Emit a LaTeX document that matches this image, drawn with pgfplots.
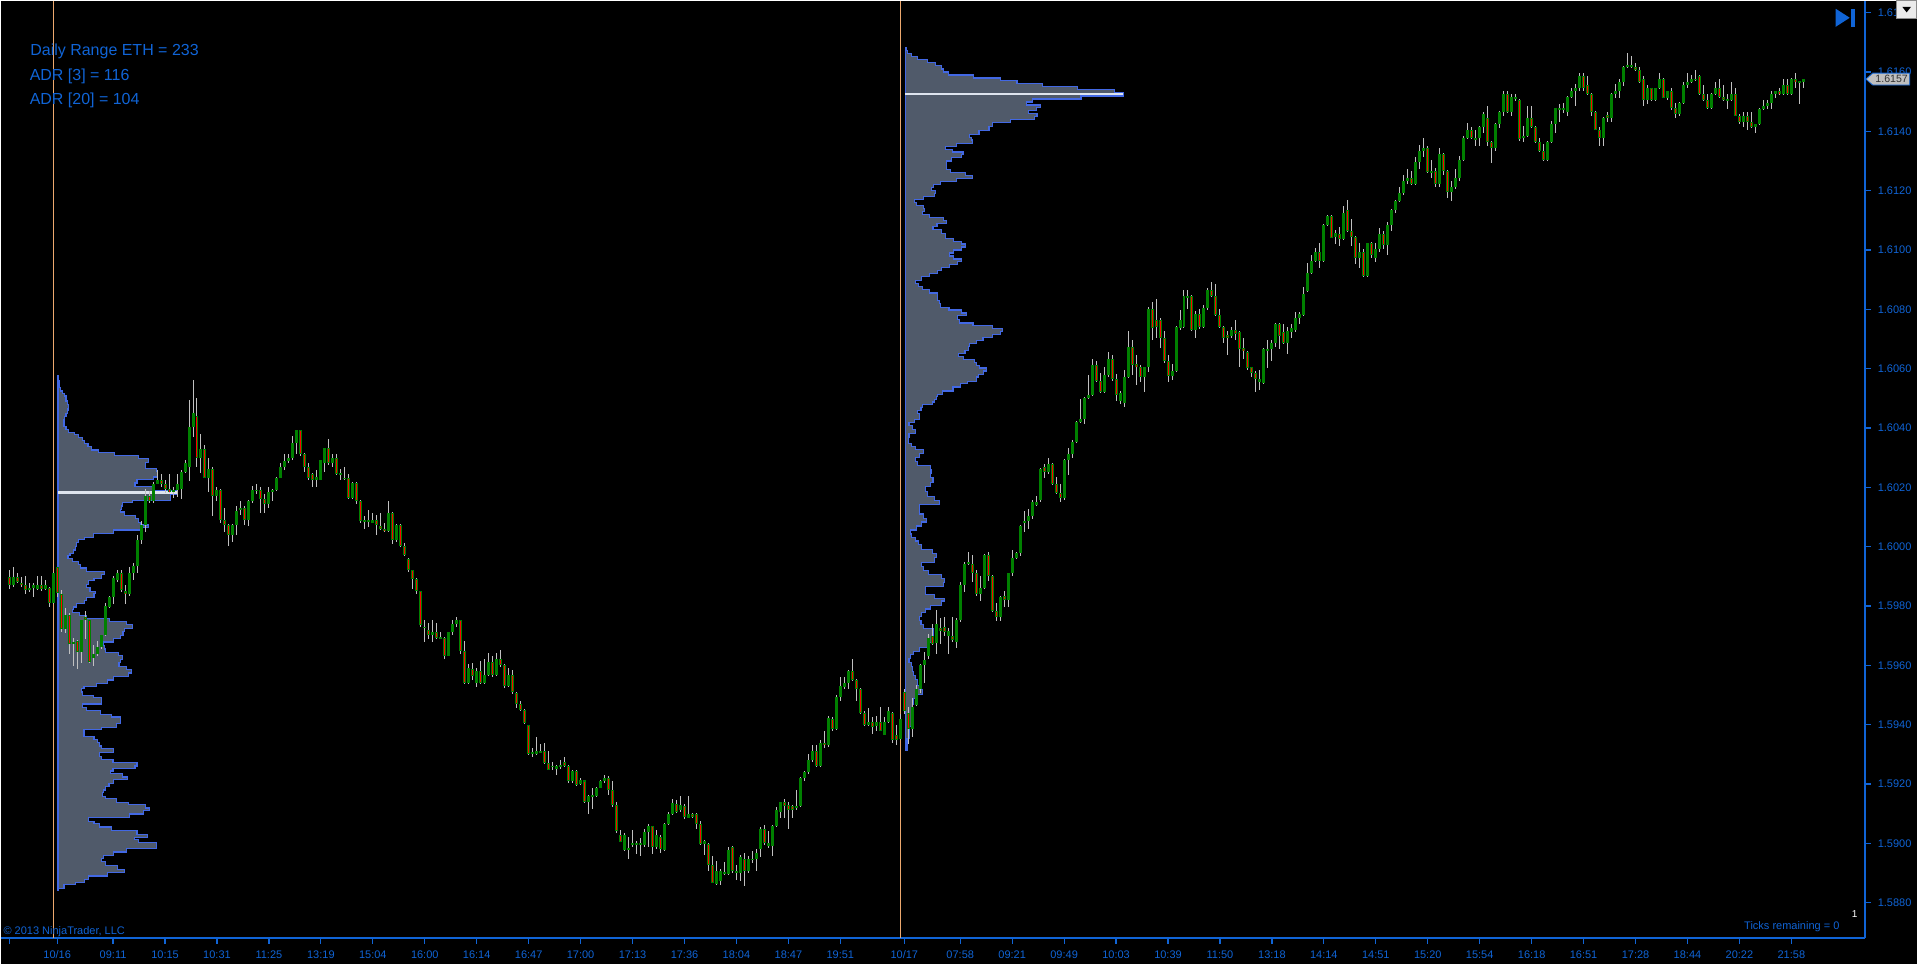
\documentclass[border=0pt]{standalone}
\usepackage{pgfplots}
\usepackage{pgfplotstable}
\usepackage{fontspec}
\setmainfont{Liberation Sans}
\pgfplotsset{compat=1.18}

\definecolor{nblue}{RGB}{16,100,214}
\definecolor{cgreen}{RGB}{0,128,0}
\definecolor{cred}{RGB}{255,0,0}
\definecolor{wick}{RGB}{192,192,192}
\definecolor{volfill}{RGB}{80,90,106}
\definecolor{voledge}{RGB}{66,104,228}
\definecolor{poc}{RGB}{222,228,238}
\definecolor{sess}{RGB}{236,168,110}

% 1 minute-ish bars, prices in pips above 1.5800 (open high low close)
\pgfplotstableread{
o h l c
189.9 192.2 185.8 187.0
187.0 193.1 186.4 189.9
189.9 191.1 187.6 188.2
187.8 189.9 186.4 187.0
187.0 190.1 184.1 185.3
185.3 187.9 184.7 186.2
186.2 187.9 182.9 187.0
185.8 190.1 185.3 187.0
187.0 190.1 185.0 185.8
185.8 188.7 185.3 187.0
186.1 186.3 179.8 181.0
181.0 191.6 180.6 191.1
193.1 193.3 183.0 184.3
183.9 185.3 171.3 172.3
172.3 179.5 170.8 177.1
177.1 177.7 163.8 167.3
167.3 169.3 159.7 167.9
168.1 168.4 158.8 164.4
164.4 175.4 160.9 175.2
176.2 178.3 169.0 175.4
175.2 175.4 160.7 161.1
162.6 166.7 159.7 163.8
163.8 168.1 163.2 166.1
166.1 170.4 165.5 170.2
170.2 181.0 169.9 180.0
179.8 183.5 179.5 182.9
182.9 190.1 180.6 189.3
188.7 192.2 188.2 191.1
191.1 192.0 184.7 185.3
184.9 187.0 180.6 184.1
184.1 193.1 183.5 191.1
191.1 194.5 188.7 193.4
193.4 204.1 191.1 202.1
202.1 208.5 200.9 207.3
207.3 219.5 205.0 217.2
217.2 218.9 214.8 215.4
215.4 221.8 214.8 221.2
221.2 225.9 221.0 222.6
222.4 224.5 220.1 221.2
221.2 222.4 218.1 219.5
219.5 224.5 218.1 218.3
218.3 220.1 216.3 219.1
219.1 224.5 216.6 221.2
219.5 225.9 216.0 225.3
225.3 229.1 224.7 228.2
227.0 249.3 222.1 240.4
240.4 256.3 236.9 245.0
244.1 250.2 227.0 229.9
229.9 238.0 224.7 233.0
233.0 234.2 223.0 223.3
223.3 229.9 218.3 226.1
226.1 227.0 210.2 217.2
217.2 220.1 215.4 219.2
219.2 219.4 207.9 209.0
209.0 213.1 205.0 207.3
207.3 207.5 200.1 204.1
204.1 207.5 201.5 207.3
207.3 213.7 204.1 212.2
212.2 215.4 210.8 213.1
213.1 213.7 207.3 209.0
209.0 215.7 207.1 215.4
215.4 220.6 214.8 219.1
218.9 221.2 217.7 219.1
219.1 220.1 211.4 216.0
216.0 217.7 211.4 214.3
214.3 220.1 213.1 218.3
218.3 219.5 215.4 219.1
219.1 223.5 218.9 223.2
223.2 228.2 223.0 226.7
226.7 231.1 225.9 229.0
229.0 231.1 228.2 229.9
229.9 237.2 229.1 234.9
234.9 239.4 231.1 239.2
239.2 239.4 230.7 231.1
231.1 231.7 225.3 227.0
227.0 228.2 222.4 223.2
224.4 224.7 220.1 222.6
222.6 225.9 220.1 223.5
222.6 229.3 222.4 229.1
228.2 233.4 225.3 233.2
233.2 236.3 227.6 228.2
228.2 231.1 227.0 229.9
229.9 231.1 224.1 224.4
224.7 226.2 222.4 224.1
223.0 227.0 222.4 223.3
223.3 224.5 216.0 216.3
216.3 221.8 216.0 221.5
221.5 221.7 214.3 215.4
215.4 215.6 207.9 208.5
208.5 210.2 206.1 209.0
209.0 212.2 206.7 208.5
208.1 211.4 207.9 209.0
209.0 210.8 204.1 207.3
207.0 211.4 205.6 206.1
206.1 207.9 205.0 205.2
205.2 215.4 205.0 211.4
211.4 211.6 200.9 202.1
202.1 207.5 201.5 207.3
207.3 207.5 199.8 200.1
200.1 201.2 196.9 197.1
195.9 196.1 191.6 192.0
192.0 192.2 185.8 189.0
189.0 189.3 183.9 185.0
185.0 185.2 173.1 173.7
173.1 175.2 167.9 172.5
171.9 174.2 169.0 170.2
170.4 175.2 167.9 171.1
171.1 174.2 168.8 169.3
169.0 171.3 168.8 169.5
169.3 169.5 162.1 163.2
163.2 171.3 163.0 171.1
171.1 175.2 170.2 173.9
173.9 176.2 173.1 175.2
175.2 175.4 163.8 164.9
164.9 168.1 153.7 153.9
153.9 160.3 153.7 159.2
158.8 160.9 155.1 156.5
153.9 159.2 152.8 158.0
158.0 161.5 153.7 153.9
153.9 162.3 153.7 156.8
156.8 164.1 156.5 161.1
161.1 163.2 156.0 156.8
156.8 164.1 156.5 162.1
162.1 165.3 159.5 160.0
160.0 160.3 152.5 153.0
153.0 159.2 152.8 156.8
156.8 158.6 150.5 151.0
150.8 151.0 145.8 147.0
147.0 147.9 144.7 144.9
144.9 145.2 140.3 140.6
139.8 140.0 129.8 130.2
130.7 132.1 129.0 130.2
130.2 136.0 129.8 131.1
130.7 133.6 130.5 131.1
131.0 133.9 126.7 127.0
127.0 131.3 124.7 124.9
125.9 127.3 124.9 126.1
125.2 126.3 122.9 126.1
125.9 128.1 125.2 126.3
127.3 129.0 125.9 126.1
126.1 126.3 120.5 120.9
120.9 124.6 120.3 124.4
124.4 124.6 119.5 119.8
120.1 122.0 119.7 121.2
121.2 121.5 113.6 113.9
113.9 116.2 109.9 115.9
115.9 118.6 111.6 116.1
116.1 119.1 115.7 118.8
118.8 121.5 118.6 121.1
121.1 123.2 120.3 122.0
122.0 122.6 116.2 118.0
118.0 120.9 112.4 112.8
112.8 113.9 103.5 104.1
102.9 104.6 100.4 100.6
97.7 103.5 97.3 102.9
98.5 102.0 94.8 97.9
99.7 104.6 98.8 100.0
99.7 100.8 96.5 100.0
100.0 101.7 95.9 99.4
99.4 104.9 98.8 103.7
103.7 106.4 98.8 105.8
105.8 106.0 96.5 98.8
98.8 104.6 98.2 102.9
102.1 102.8 96.8 98.1
97.8 107.0 97.4 106.7
106.7 110.7 106.3 109.8
109.8 115.1 109.4 113.7
113.4 114.7 110.1 110.7
111.4 116.1 110.7 113.0
112.7 113.4 108.1 109.0
108.7 116.1 108.5 109.8
109.8 110.1 108.5 109.0
109.8 110.1 104.7 106.7
106.7 107.7 99.4 99.7
99.7 101.0 96.1 100.8
99.7 100.1 90.8 92.8
92.8 95.7 86.5 86.8
86.4 94.1 86.1 90.8
87.4 91.4 86.1 90.8
89.7 93.8 89.4 90.5
89.7 98.8 89.4 97.7
98.8 99.0 90.1 90.8
90.8 92.8 87.7 90.1
90.1 96.1 87.4 95.4
94.8 96.8 85.8 90.8
90.8 95.7 90.1 94.8
94.4 97.4 93.4 94.8
94.8 98.1 90.8 96.8
98.1 105.4 95.4 104.7
104.7 106.1 99.4 100.1
99.2 104.1 98.4 100.1
99.2 106.1 95.7 105.8
105.8 112.1 105.4 111.1
110.7 114.1 108.7 113.8
113.8 115.1 108.7 112.7
113.0 113.8 104.7 111.1
112.7 112.9 108.7 111.1
112.1 118.1 111.4 112.7
112.7 122.3 112.4 122.1
122.1 124.3 121.0 124.1
124.1 130.0 123.4 128.0
128.0 133.0 127.4 131.1
131.1 133.0 125.8 126.0
126.0 134.7 125.8 133.8
133.8 138.0 132.0 133.0
133.0 143.1 132.4 142.3
142.0 142.7 138.0 138.7
138.7 150.0 138.3 149.3
149.3 156.0 148.0 152.9
152.7 156.0 152.0 154.0
154.0 158.3 152.0 158.0
158.0 162.0 154.7 155.1
155.1 155.3 148.0 152.0
152.0 152.4 143.6 144.0
144.0 144.7 139.6 140.0
140.0 145.7 139.6 141.0
141.0 142.7 137.0 139.1
139.4 143.0 137.8 141.0
141.0 146.0 137.8 138.0
136.7 142.7 136.4 141.0
141.0 146.0 140.7 144.7
144.0 144.2 134.0 134.7
136.7 140.0 133.0 134.7
135.1 143.6 134.7 142.0
151.1 152.0 143.6 144.7
144.0 146.0 133.4 138.7
138.7 149.0 136.0 146.0
146.7 153.3 146.3 152.0
152.0 160.6 150.7 160.0
160.0 164.6 154.0 161.7
163.3 170.6 162.0 169.3
170.0 174.0 167.0 167.3
167.6 178.6 164.0 174.0
172.6 176.0 167.3 171.6
172.9 176.4 170.0 171.3
170.0 172.6 164.0 171.6
170.0 176.4 168.0 168.4
168.0 176.0 166.0 175.3
175.3 188.0 174.6 187.0
187.0 195.0 184.6 194.2
194.2 198.2 193.7 195.0
194.2 197.3 188.0 191.3
191.3 192.0 183.5 184.0
184.0 190.2 181.7 186.0
186.0 197.6 185.7 197.3
197.3 198.2 188.6 190.0
190.0 190.6 178.0 178.2
178.2 180.9 175.0 176.4
176.4 183.3 175.0 183.0
183.3 184.9 179.6 182.2
182.2 191.3 179.6 191.0
191.0 199.0 190.0 196.3
196.3 198.2 196.0 198.0
198.0 207.2 196.9 207.0
207.9 211.9 204.8 208.6
208.6 212.6 205.9 210.2
210.2 215.9 209.2 215.2
214.2 217.2 213.6 215.2
215.9 226.5 215.2 226.1
226.8 227.9 223.2 225.2
225.2 229.9 224.5 227.9
227.9 228.3 220.8 221.2
221.2 223.5 217.6 218.1
218.1 221.2 215.2 216.3
216.3 229.4 215.9 229.2
229.2 233.2 224.3 231.2
231.2 235.9 229.9 235.2
235.2 242.5 234.9 242.1
242.1 249.8 241.8 243.2
243.2 250.5 241.2 250.1
250.1 257.8 249.8 251.2
251.2 263.4 250.9 261.4
261.4 262.5 255.4 255.8
255.8 258.5 251.8 252.2
252.2 260.5 251.8 257.8
257.8 265.5 257.2 263.4
263.4 264.5 255.8 256.5
256.5 258.1 249.2 251.2
249.2 252.5 248.2 251.8
248.5 259.4 247.2 257.2
257.2 272.7 256.8 267.4
267.4 269.5 257.8 261.1
261.5 264.5 254.5 260.5
260.5 261.1 255.4 257.2
257.2 260.7 252.2 260.5
260.5 280.7 258.9 280.2
280.2 282.4 269.5 273.8
276.5 283.4 270.5 274.1
276.5 277.1 267.1 270.5
270.5 272.7 261.8 262.5
262.5 264.5 255.4 257.5
257.5 261.5 256.2 259.1
259.1 274.5 258.9 274.1
273.8 279.8 273.1 276.5
274.1 286.4 273.8 284.4
283.8 286.4 280.2 284.4
284.4 284.7 272.7 273.1
273.1 279.4 270.5 278.4
278.4 280.2 273.5 274.1
274.1 281.5 273.8 280.4
280.4 287.1 279.8 286.4
286.4 289.1 284.2 284.4
284.4 288.4 277.8 278.0
278.0 280.2 273.8 274.1
274.1 274.5 268.5 270.5
271.4 272.7 264.5 270.5
271.1 274.1 270.5 273.1
273.1 276.5 269.8 271.8
272.5 272.7 260.5 266.5
266.9 270.5 263.1 265.8
265.5 265.8 259.4 260.2
260.5 260.7 257.2 258.5
258.5 259.1 252.2 256.5
255.4 259.4 252.8 256.5
255.1 266.9 254.9 266.5
266.5 269.8 260.2 265.8
266.5 269.5 262.5 268.5
268.5 275.4 267.4 275.1
275.1 275.4 266.5 270.9
272.5 275.1 268.2 268.5
268.5 274.1 265.1 272.7
272.5 274.9 270.5 273.8
273.1 279.1 272.5 277.1
277.2 279.2 275.1 278.4
278.0 287.4 277.8 285.2
286.2 295.6 286.0 292.2
292.2 298.4 292.0 296.4
296.4 300.6 296.0 299.2
299.2 302.4 294.0 296.4
296.4 308.7 296.0 308.4
308.4 311.7 308.1 311.4
311.4 311.7 304.0 304.2
304.5 306.6 302.1 305.7
305.4 307.6 301.2 303.6
303.6 314.8 303.3 312.4
313.6 316.7 306.0 306.4
306.4 310.6 301.2 304.5
304.5 304.7 295.2 297.3
297.3 302.4 294.0 299.4
299.4 300.4 291.0 291.2
291.2 302.5 291.0 302.4
302.4 302.7 297.3 298.4
297.3 302.4 296.0 300.4
300.4 307.5 299.2 305.4
305.4 306.4 300.4 301.6
301.6 309.6 298.2 308.4
308.4 313.8 306.4 313.6
313.6 316.7 312.4 316.5
316.5 321.3 316.2 319.2
319.2 325.3 318.4 323.2
323.4 327.4 322.2 324.4
324.4 326.5 322.0 322.2
322.2 331.3 322.0 329.5
329.5 335.5 327.3 333.3
333.3 337.6 331.3 334.5
334.5 334.9 326.1 326.2
326.1 330.4 324.4 326.5
326.5 327.7 321.1 322.2
322.2 334.5 321.1 332.5
332.5 332.8 325.3 326.5
326.5 326.8 317.4 319.5
319.5 323.4 316.5 321.3
321.3 327.3 320.4 324.4
324.4 331.6 323.2 330.4
330.4 338.5 330.1 337.6
337.6 342.7 337.3 340.5
340.5 341.5 337.3 337.6
337.3 340.5 335.2 337.6
337.6 341.7 335.2 341.5
341.5 346.5 339.3 345.7
344.5 348.7 335.2 336.4
336.4 336.7 329.2 334.5
334.5 342.9 333.3 342.4
342.4 346.9 341.2 346.5
346.5 353.7 345.3 352.5
352.5 353.7 346.3 346.5
346.5 352.5 345.3 351.6
351.6 352.5 350.1 350.9
350.7 350.9 336.9 337.3
337.6 341.7 336.4 338.5
338.5 348.7 338.1 344.5
344.5 348.7 341.2 341.5
341.5 341.7 336.1 336.4
336.4 337.6 333.1 333.4
333.4 335.7 330.1 330.4
330.4 336.7 330.1 336.4
336.4 343.6 336.1 342.4
342.4 348.0 339.3 347.7
347.3 349.3 343.3 347.7
347.7 349.7 346.3 347.3
346.5 351.8 345.3 351.6
351.6 354.7 351.3 353.5
353.5 355.9 348.5 354.7
354.7 359.8 353.7 358.6
358.6 359.8 353.5 354.7
355.7 358.6 352.3 352.5
352.5 352.9 345.3 346.5
346.5 346.8 340.3 340.5
340.5 341.5 335.2 337.6
337.6 344.8 335.2 344.5
345.5 346.5 343.3 344.5
344.5 352.9 343.3 352.5
352.5 355.9 351.3 353.5
353.5 357.7 351.3 356.5
356.5 361.9 355.3 361.7
361.7 366.5 361.3 362.5
361.7 365.5 361.3 362.5
361.7 362.9 360.5 360.7
360.7 361.7 356.2 356.5
357.5 358.6 348.5 350.5
350.5 355.7 349.3 354.5
354.5 354.7 350.1 350.5
350.5 354.7 350.1 354.5
354.5 359.8 354.1 357.7
357.7 358.0 351.1 351.3
351.3 353.7 350.5 353.5
353.5 354.7 347.3 347.7
347.7 349.7 344.5 345.7
345.7 349.9 345.3 349.5
349.5 356.5 349.3 355.7
355.7 359.8 354.7 356.5
356.5 358.9 356.2 357.7
357.3 360.7 357.1 357.7
358.6 358.9 352.3 352.5
352.5 355.7 350.1 350.5
350.5 352.5 347.5 347.7
347.7 352.9 347.5 352.5
352.5 356.5 352.3 354.7
354.7 357.7 351.3 351.7
351.7 355.7 350.1 350.5
350.5 352.5 347.5 350.7
350.5 356.5 350.1 352.5
352.5 354.7 345.1 345.3
345.3 345.7 342.4 343.3
343.3 346.5 341.5 345.3
345.3 346.5 340.5 343.3
343.3 346.5 341.2 341.5
341.5 342.4 339.3 342.4
342.4 347.7 342.1 347.5
347.5 350.5 347.3 348.7
348.7 350.5 347.5 349.5
349.5 353.5 347.5 352.5
352.5 353.7 351.3 353.5
353.5 354.7 352.3 352.5
352.5 357.7 352.3 355.7
355.7 357.7 352.3 352.5
352.5 358.0 352.3 357.7
357.7 359.5 354.5 356.5
356.5 356.8 349.3 356.8
356.5 357.7 354.5 357.7
}\candles

% volume profiles: lower edge of each price row (pips) and its length (bars)
\pgfplotstableread{
p w
84.1 0
84.1 0.1
84.9 1.5
86.1 4.4
86.9 6.7
87.8 7.7
89.0 12.5
90.1 16.6
91.3 14.9
92.5 11.9
93.9 10.9
95.0 11.4
95.9 14.0
97.1 17.2
98.3 24.7
100.3 20.1
101.2 19.1
102.0 22.4
103.1 19.8
104.3 13.5
105.5 10.4
106.6 9.0
107.5 7.7
108.7 18.0
109.9 21.4
111.0 22.9
111.9 21.9
113.1 17.7
113.9 14.6
115.1 11.9
115.9 11.1
117.1 11.4
118.0 11.9
119.1 12.8
120.3 14.0
121.5 17.4
122.4 16.1
123.5 13.2
124.4 13.8
125.2 19.3
126.1 19.8
127.3 13.8
128.4 10.9
129.3 10.4
130.5 14.0
131.9 10.9
132.8 10.4
134.0 9.8
135.1 9.0
136.0 6.5
138.3 10.9
139.1 14.6
140.3 15.6
142.6 13.5
143.5 10.7
144.7 7.2
145.8 6.2
147.0 10.9
149.1 8.8
149.9 6.2
151.0 5.9
152.2 6.5
153.0 9.6
153.9 12.5
155.1 14.0
156.3 17.7
157.4 18.4
158.6 17.2
159.7 15.3
160.9 15.6
162.1 16.1
163.2 15.1
164.4 11.9
165.5 11.7
166.7 11.4
167.9 14.0
169.0 15.6
170.2 16.3
171.3 16.6
172.5 18.7
173.7 17.2
174.8 13.0
175.7 7.2
176.9 5.4
177.7 3.6
178.9 3.8
179.7 4.6
180.9 6.7
182.0 7.2
182.9 9.0
184.1 9.3
185.0 8.0
186.2 7.2
187.3 7.7
188.5 9.0
189.3 10.9
190.5 11.7
191.6 7.2
192.8 5.7
194.0 5.1
195.1 3.6
195.9 2.5
196.9 3.0
197.8 3.8
198.9 4.4
200.1 4.6
201.5 5.1
202.4 6.7
203.2 8.8
204.4 14.0
205.6 20.8
206.4 22.6
207.3 20.8
208.2 20.1
209.4 19.5
210.5 16.6
211.7 15.6
212.5 15.9
213.7 16.1
214.8 18.7
215.7 28.2
217.7 29.7
218.9 24.0
220.3 19.3
221.5 19.8
222.6 24.0
223.5 25.0
225.3 24.7
226.4 21.9
228.4 22.6
229.6 20.1
230.7 14.2
231.7 10.1
232.6 8.3
233.7 7.5
234.8 6.7
235.7 6.2
236.9 5.1
237.7 4.1
238.6 2.7
239.5 2.0
240.4 1.5
242.7 1.7
243.8 2.0
245.0 2.3
245.8 2.5
246.7 2.7
247.9 2.3
249.1 2.0
250.8 1.7
251.6 1.2
252.5 0.7
253.7 0.4
256.0 0.1
257.8 0
}\profA

\pgfplotstableread{
p w
131.4 0
131.4 0.4
135.4 1.0
139.4 1.5
143.3 1.8
146.7 2.0
148.7 3.0
150.3 4.3
152.0 3.5
153.3 3.0
155.3 2.5
156.7 2.0
158.0 1.8
159.6 1.5
160.9 0.9
162.2 1.2
163.6 2.0
164.6 3.5
166.0 6.0
167.6 6.7
169.3 7.0
172.4 4.6
173.7 3.9
175.0 3.5
176.4 4.1
177.7 5.1
179.0 6.2
180.3 9.1
181.7 9.8
182.6 7.2
184.0 5.1
186.6 9.5
188.0 9.8
189.3 9.1
190.6 5.7
192.0 4.6
193.3 4.1
194.6 7.2
196.3 7.7
197.7 6.7
199.0 4.1
200.8 3.3
201.9 2.5
203.0 1.5
204.3 1.3
205.6 2.8
207.0 4.1
208.3 5.3
209.6 4.6
211.0 3.5
214.2 8.5
215.5 7.2
216.8 5.6
218.5 5.1
220.3 6.2
221.6 6.9
223.2 6.2
224.8 6.4
226.1 6.2
227.5 3.0
228.8 2.5
230.1 3.5
231.5 4.6
232.8 2.5
233.9 1.5
234.9 0.7
236.8 0.9
238.1 2.5
239.4 1.8
240.8 0.9
241.8 2.2
242.9 3.5
244.8 3.0
245.8 3.9
246.9 4.3
247.8 6.7
248.8 7.2
249.6 7.7
250.5 8.1
251.4 9.3
252.5 11.9
253.8 13.7
254.9 15.6
255.8 17.7
257.2 18.2
258.1 19.6
259.2 20.3
260.2 18.5
261.1 17.7
262.1 17.2
263.1 14.5
264.2 13.3
265.1 14.9
266.1 15.8
267.4 16.1
268.5 17.7
269.5 19.4
270.5 21.7
271.4 23.8
272.5 24.2
273.5 21.7
274.5 16.9
275.4 13.5
276.7 13.0
277.8 15.2
278.8 14.1
279.8 10.9
280.7 8.8
282.0 8.5
283.1 8.1
285.5 6.0
286.8 4.3
287.8 3.3
288.7 2.5
289.8 4.0
291.0 6.0
292.0 8.0
293.0 9.0
294.0 11.0
295.0 13.0
296.0 14.0
297.0 12.0
298.0 11.0
299.0 12.0
300.0 14.0
301.0 15.0
302.0 14.0
303.0 12.0
304.0 10.0
305.5 9.0
306.8 6.9
307.8 7.9
308.9 10.3
309.9 9.5
310.9 6.0
311.9 4.2
312.9 4.7
313.9 4.5
314.9 2.8
315.9 2.2
316.9 4.5
318.0 7.2
319.0 7.5
320.0 6.5
321.0 7.0
322.0 8.8
323.0 12.8
324.0 16.7
325.0 15.0
326.0 11.2
327.0 10.3
330.0 11.5
331.1 14.0
332.2 14.4
333.0 11.8
334.0 10.0
335.0 12.8
336.0 16.7
337.1 16.5
338.0 16.1
338.9 18.4
340.2 20.9
341.7 21.7
342.9 26.2
343.9 32.2
344.9 32.9
345.9 30.7
346.9 32.7
347.9 33.7
348.9 30.2
349.9 31.7
350.9 43.9
351.9 54.5
353.0 52.3
354.0 43.1
355.0 34.2
356.0 27.9
357.0 23.7
358.0 17.0
359.0 10.7
360.0 9.5
361.0 9.0
362.2 7.5
363.1 5.6
364.1 3.0
365.2 1.6
366.1 0.5
367.2 0.2
368.1 0
}\profB

\begin{document}
\begin{tikzpicture}
\fill[black] (0pt,0pt) rectangle (959pt,482pt);
\begin{axis}[
  at={(0pt,13pt)}, anchor=south west,
  scale only axis, width=933pt, height=469pt,
  xmin=-2.1, xmax=464.35, ymin=68.2, ymax=384.0,
  axis x line*=bottom, axis y line*=right,
  axis line style={-, draw=nblue, line width=0.8pt},
  tick align=outside, major tick length=3pt,
  tick style={draw=nblue, line width=0.6pt},
  ytick={80,100,...,380},
  yticklabels={1.5880,1.5900,1.5920,1.5940,1.5960,1.5980,1.6000,1.6020,1.6040,1.6060,1.6080,1.6100,1.6120,1.6140,1.6160,1.6180},
  xtick={0,12,26,39,52,65,78,91,104,117,130,143,156,169,182,195,208,224,238,251,264,277,290,303,316,329,342,355,368,381,394,407,420,433,446},
  xticklabels={,10/16,09:11,10:15,10:31,11:25,13:19,15:04,16:00,16:14,16:47,17:00,17:13,17:36,18:04,18:47,19:51,10/17,07:58,09:21,09:49,10:03,10:39,11:50,13:18,14:14,14:51,15:20,15:54,16:18,16:51,17:28,18:44,20:22,21:58},
  ticklabel style={font=\fontsize{5.5}{6}\selectfont, text=nblue},
  yticklabel style={anchor=west},
]
% session breaks
\addplot[sess, line width=0.6pt] coordinates {(11.15,68.2) (11.15,384)};
\addplot[sess, line width=0.6pt] coordinates {(223.15,68.2) (223.15,384)};

% volume profiles of the two sessions
\addplot[const plot mark right, fill=volfill, draw=voledge, line width=0.6pt]
  table[x expr={\thisrow{w}+12.2}, y=p] {\profA} -- cycle;
\addplot[const plot mark right, fill=volfill, draw=voledge, line width=0.6pt]
  table[x expr={\thisrow{w}+224.3}, y=p] {\profB} -- cycle;
\addplot[poc, line width=1.4pt] coordinates {(12.2,218.3) (42.3,218.3)};
\addplot[poc, line width=1.4pt] coordinates {(224.3,352.6) (278.8,352.6)};

% candles: wicks, bodies, red core of falling bars
\addplot[draw=none, mark=none,
  error bars/.cd, y dir=both, y explicit, error mark=none,
  error bar style={draw=wick, line width=0.5pt}]
  table[x expr=\coordindex, y expr={(\thisrow{h}+\thisrow{l})/2},
        y error expr={(\thisrow{h}-\thisrow{l})/2}] {\candles};
\addplot[draw=none, mark=none,
  error bars/.cd, y dir=both, y explicit, error mark=none,
  error bar style={draw=cgreen, line width=1.5pt}]
  table[x expr=\coordindex, y expr={(\thisrow{o}+\thisrow{c})/2},
        y error expr={max(abs(\thisrow{o}-\thisrow{c})/2,0.17)}] {\candles};
\addplot[draw=none, mark=none,
  restrict expr to domain={\thisrow{o}-\thisrow{c}}{0.75:1000},
  error bars/.cd, y dir=both, y explicit, error mark=none,
  error bar style={draw=cred, line width=0.5pt}]
  table[x expr=\coordindex, y expr={(\thisrow{o}+\thisrow{c})/2},
        y error expr={(\thisrow{o}-\thisrow{c})/2-0.34}] {\candles};
\end{axis}

% text and chart furniture
\begin{scope}[font=\fontsize{8}{9}\selectfont, text=nblue]
\node[anchor=base west, inner sep=0pt] at (14.6pt,454.5pt) {Daily Range ETH = 233};
\node[anchor=base west, inner sep=0pt] at (14.3pt,442.3pt) {ADR [3] = 116};
\node[anchor=base west, inner sep=0pt] at (14.3pt,430.3pt) {ADR [20] = 104};
\end{scope}
\node[anchor=west, inner sep=0pt, text=nblue, font=\fontsize{5.5}{6}\selectfont] at (1.2pt,16pt) {\textcopyright\ 2013 NinjaTrader, LLC};
\node[anchor=west, inner sep=0pt, text=nblue, font=\fontsize{5.5}{6}\selectfont] at (872.5pt,18.5pt) {Ticks remaining = 0};
\node[inner sep=0pt, text=white, font=\fontsize{5}{6}\selectfont] at (928pt,25pt) {1};

\filldraw[fill=black!25, draw=nblue, line width=0.4pt]
  (933.6pt,442.8pt) -- (937pt,445.8pt) -- (955.5pt,445.8pt) -- (955.5pt,439.8pt) -- (937pt,439.8pt) -- cycle;
\node[inner sep=0pt, text=black!80, font=\fontsize{5.3}{6}\selectfont] at (946.5pt,442.8pt) {1.6157};

\fill[nblue] (918.5pt,478pt) -- (918.5pt,469pt) -- (925.5pt,473.5pt) -- cycle;
\fill[nblue] (926pt,469pt) rectangle (928pt,478pt);

\filldraw[fill=black!8, draw=black!45, line width=0.4pt] (949pt,473pt) rectangle (959pt,482pt);
\fill[black] (951.8pt,479pt) -- (956.2pt,479pt) -- (954pt,476.2pt) -- cycle;
\end{tikzpicture}
\end{document}
